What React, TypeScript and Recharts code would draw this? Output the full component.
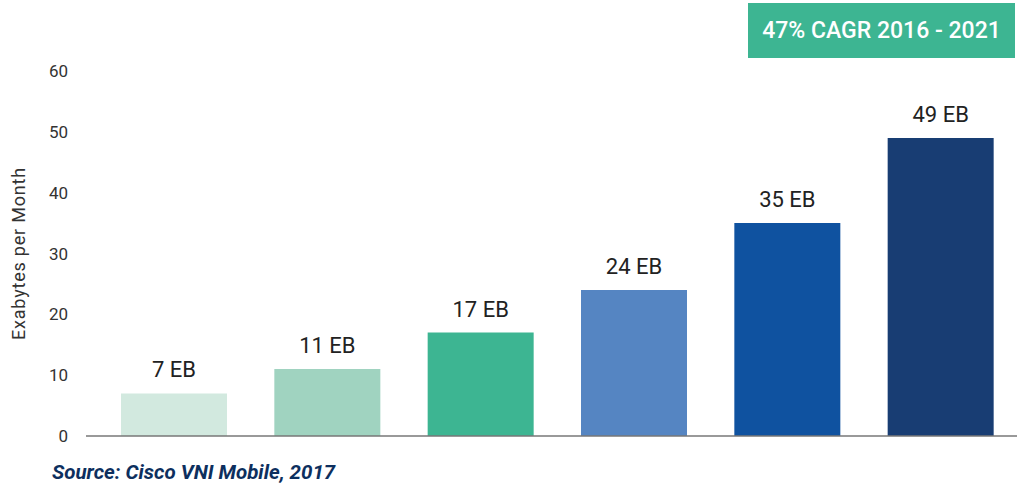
import React from 'react';
import { BarChart, Bar, XAxis, YAxis, Cell, LabelList, ReferenceLine } from 'recharts';

const years = ['2016', '2017', '2018', '2019', '2020', '2021'];
const traffic = [7, 11, 17, 24, 35, 49];
const barColors = ['#d2e9df', '#a0d3c0', '#3db592', '#5585c2', '#0f52a0', '#183d73'];
const yTicks = [0, 10, 20, 30, 40, 50, 60];

const data = years.map((year, i) => ({ year, value: traffic[i] }));

const font = 'Roboto, "DejaVu Sans", sans-serif';

const App: React.FC = () => {
    return (
        <div style={{ position: 'fixed', left: 0, top: 0, width: 1018, height: 485, background: '#fff', fontFamily: font }}>
            <BarChart
                width={1018}
                height={485}
                data={data}
                margin={{ top: 71, right: 1, left: 0, bottom: 49 }}
            >
                <XAxis
                    dataKey="year"
                    tick={false}
                    tickLine={false}
                    height={0}
                    padding={{ left: 11, right: 0 }}
                    axisLine={false}
                />
                <YAxis
                    domain={[0, 60]}
                    ticks={yTicks}
                    width={86}
                    axisLine={false}
                    tickLine={false}
                    tickSize={0}
                    tickMargin={18}
                    tick={{ fill: '#333', fontSize: 17, fontFamily: font }}
                    label={{
                        value: 'Exabytes per Month',
                        angle: -90,
                        position: 'insideLeft',
                        dx: 14,
                        style: { textAnchor: 'middle', fill: '#333', fontSize: 18, letterSpacing: 0.8, fontFamily: font },
                    }}
                />
                <ReferenceLine y={0} stroke="#777" strokeWidth={1.5} />
                <Bar dataKey="value" barSize={106} isAnimationActive={false}>
                    {data.map((d, i) => (
                        <Cell key={d.year} fill={barColors[i]} />
                    ))}
                    <LabelList
                        dataKey="value"
                        position="top"
                        offset={16}
                        formatter={(v: number) => `${v} EB`}
                        style={{ fill: '#222', fontSize: 22, fontFamily: font }}
                    />
                </Bar>
            </BarChart>
            <div
                style={{
                    position: 'absolute',
                    left: 748,
                    top: 3,
                    width: 267,
                    height: 55,
                    background: '#3db592',
                    color: '#fff',
                    fontSize: 23,
                    fontWeight: 500,
                    display: 'flex',
                    alignItems: 'center',
                    justifyContent: 'center',
                }}
            >
                47% CAGR 2016 - 2021
            </div>
            <div
                style={{
                    position: 'absolute',
                    left: 52,
                    top: 460,
                    color: '#0d2f5e',
                    fontSize: 20.5,
                    fontWeight: 700,
                    fontStyle: 'italic',
                }}
            >
                Source: Cisco VNI Mobile, 2017
            </div>
        </div>
    );
};

export default App;
